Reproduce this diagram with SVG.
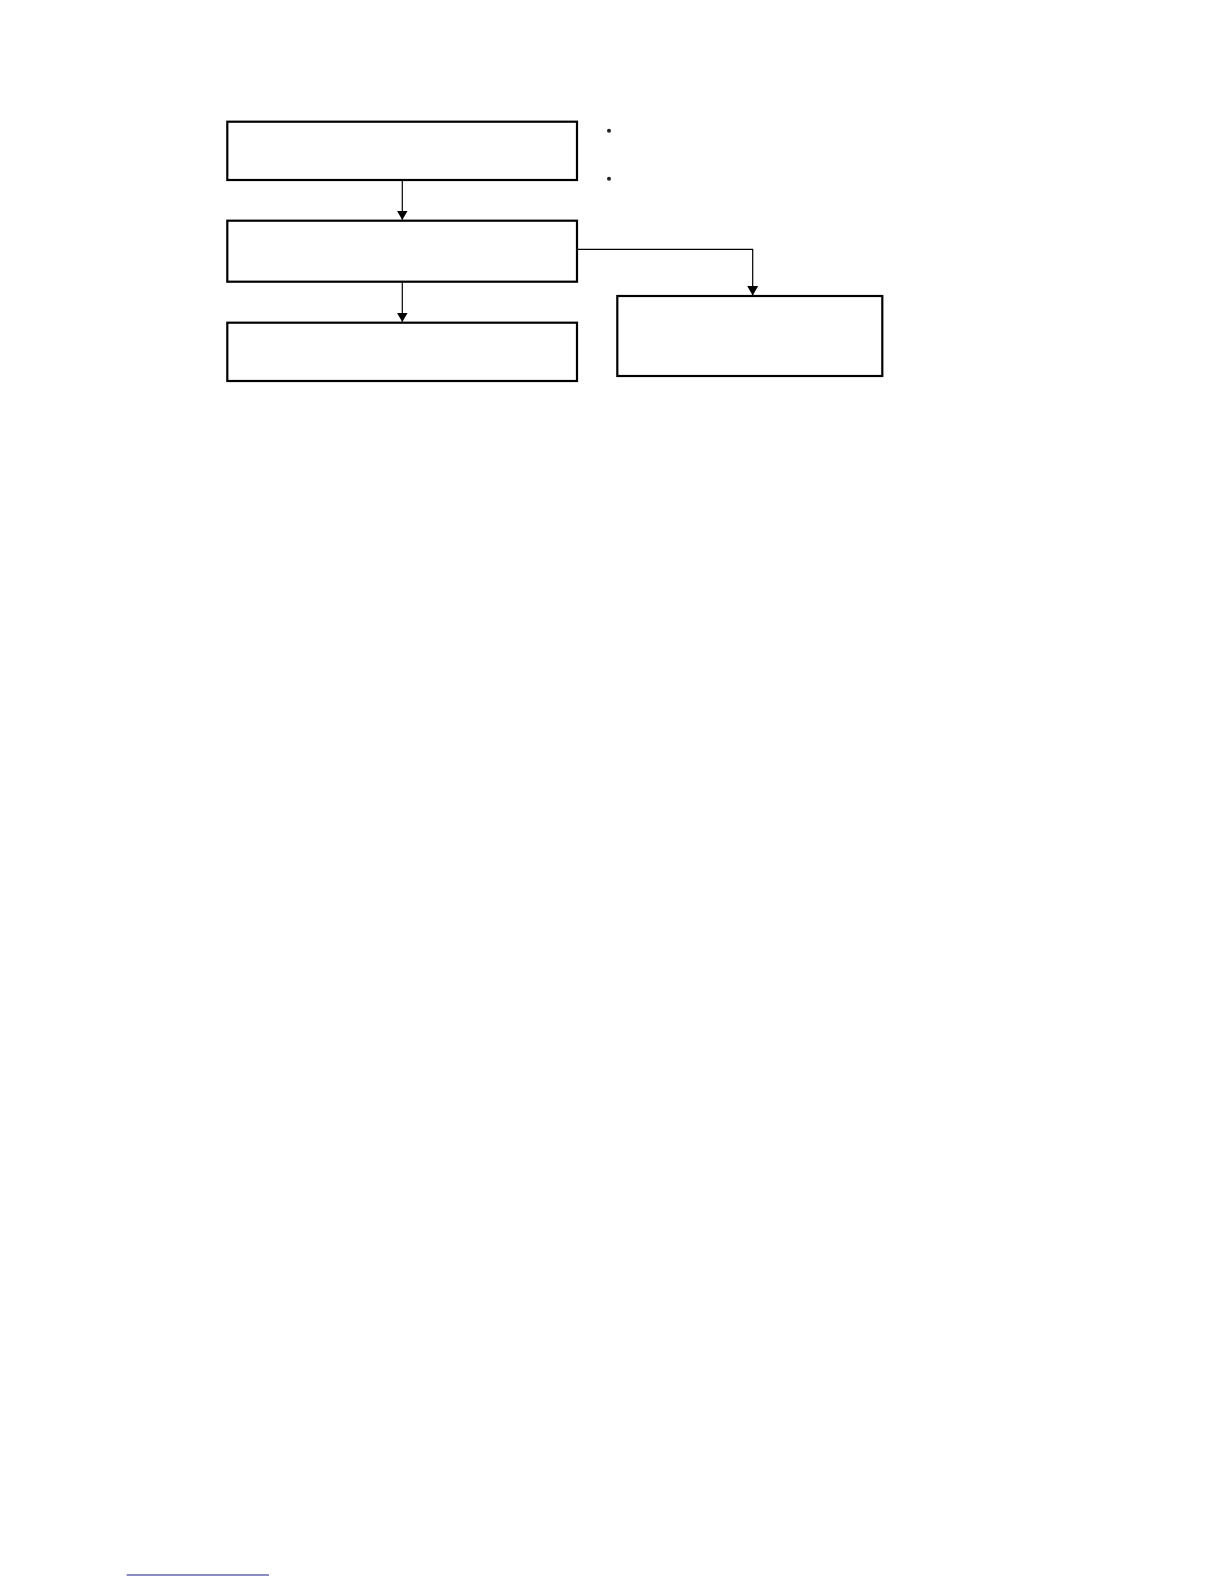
<svg xmlns="http://www.w3.org/2000/svg" width="1224" height="1584" viewBox="0 0 1224 1584">
<style>
.box{fill:#fff;stroke:#000;stroke-width:2.2}
.conn{fill:none;stroke:#000;stroke-width:1.2}
.dot{fill:#222}
</style>
<defs>
<marker id="ah" markerWidth="10" markerHeight="12" refX="9" refY="6" orient="auto" markerUnits="userSpaceOnUse" viewBox="0 0 10 12">
<path d="M0,0.5 L9.5,6 L0,11.5 Z" fill="#000"/>
</marker>
</defs>
<rect width="1224" height="1584" fill="#fff"/>
<g id="connectors">
<path class="conn" d="M402.3,180 V219.5" marker-end="url(#ah)"/>
<path class="conn" d="M402.3,282 V321.5" marker-end="url(#ah)"/>
<path class="conn" d="M577,249.3 H752.7 V295" marker-end="url(#ah)"/>
</g>
<g id="node1"><rect class="box" x="227.3" y="121.7" width="349.7" height="58.3"/></g>
<g id="node2"><rect class="box" x="227.3" y="220.7" width="349.7" height="61"/></g>
<g id="node3"><rect class="box" x="227.3" y="322.7" width="349.7" height="58.3"/></g>
<g id="node4"><rect class="box" x="617.3" y="296" width="265" height="80"/></g>
<g id="bullets">
<circle class="dot" cx="609" cy="130.7" r="2"/>
<circle class="dot" cx="609" cy="178.7" r="2"/>
</g>
<line x1="126.7" y1="1575" x2="269" y2="1575" stroke="#1a1a8c" stroke-width="1.2"/>
</svg>
